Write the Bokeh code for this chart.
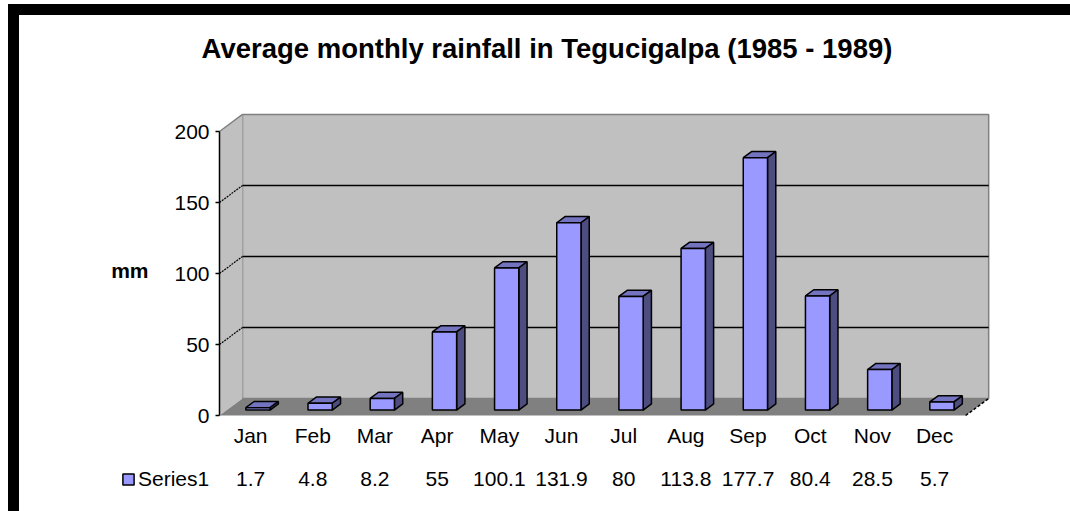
from bokeh.plotting import figure
from bokeh.models import Range1d, Legend, LegendItem
from bokeh.core.properties import value
from bokeh.embed import file_html
from bokeh.resources import INLINE

# ---------------- data ----------------
months = ["Jan", "Feb", "Mar", "Apr", "May", "Jun",
          "Jul", "Aug", "Sep", "Oct", "Nov", "Dec"]
rainfall = [1.7, 4.8, 8.2, 55, 100.1, 131.9, 80, 113.8, 177.7, 80.4, 28.5, 5.7]
value_labels = ["1.7", "4.8", "8.2", "55", "100.1", "131.9",
                "80", "113.8", "177.7", "80.4", "28.5", "5.7"]
y_ticks = [0, 50, 100, 150, 200]
tick_labels = ["0", "50", "100", "150", "200"]
title_text = "Average monthly rainfall in Tegucigalpa (1985 - 1989)"
series_name = "Series1"
y_label = "mm"

# ---------------- layout & 3D style ----------------
FONT = value("Liberation Sans")
FS = "21px"
OFF_X, OFF_Y = 19, 15            # chart position on the page (inside black border)
W, H = 1070 - OFF_X, 511 - OFF_Y
PX, PY = 62.18, 1.42             # pixels per category / per mm
X0, Y0 = 200, 400                # canvas position of the front-plane origin
DX, DY = 0.37, 12.0              # depth offset (categories, mm)
D0, D1 = 0.32, 0.68              # bar front / back depth fraction
BAR_W = 0.39
WALL, FLOOR, EDGE = "#C0C0C0", "#808080", "#808080"
C_FRONT, C_TOP, C_SIDE = "#9999FF", "#7373BF", "#4D4D80"

n = len(months)
ymax = y_ticks[-1]
centers = [i + 0.5 for i in range(n)]

x_range = Range1d(-X0 / PX, (W - X0) / PX)
y_range = Range1d(-(H - Y0) / PY, Y0 / PY)
p = figure(width=W, height=H, x_range=x_range, y_range=y_range,
           x_axis_location=None, y_axis_location=None,
           output_backend="svg", toolbar_location=None, min_border=0,
           margin=(OFF_Y, 0, 0, OFF_X),
           styles={"box-shadow": "-11px -11px 0 0 black, 0 -11px 0 0 black, -11px 0 0 0 black"})
p.title.text = ""
p.background_fill_color = "white"
p.border_fill_color = "white"
p.outline_line_color = None
p.xgrid.visible = False
p.ygrid.visible = False

# title
p.text(x=[(x_range.start + x_range.end) / 2], y=[y_range.end], text=[title_text],
       x_offset=2, y_offset=33, text_align="center", text_baseline="middle",
       text_font=FONT, text_font_size="27.5px", text_font_style="bold", text_color="black")

# walls and floor
p.quad(left=DX, right=n + DX, bottom=DY, top=ymax + DY, fill_color=WALL,
       line_color=EDGE, line_width=1.5)
p.patch([0, 0, DX, DX], [0, ymax, ymax + DY, DY], fill_color=WALL, line_color=None)
p.line([0, DX], [ymax, ymax + DY], line_color=EDGE, line_width=1.5)
p.patch([0, n, n + DX, DX], [0, 0, DY, DY], fill_color=FLOOR, line_color=None)
p.line([n, n + DX], [0, DY], line_color="black", line_width=1.5, line_dash="3 2")

grid_vals = y_ticks[1:-1]
p.segment(x0=[DX] * len(grid_vals), x1=[n + DX] * len(grid_vals),
          y0=[v + DY for v in grid_vals], y1=[v + DY for v in grid_vals],
          line_color="black", line_width=1.5)
p.segment(x0=[0] * len(grid_vals), x1=[DX] * len(grid_vals),
          y0=grid_vals, y1=[v + DY for v in grid_vals],
          line_color="black", line_width=1.2, line_dash="2 1")

# bars
dd = D1 - D0
lefts = [c - BAR_W / 2 + D0 * DX for c in centers]
rights = [c + BAR_W / 2 + D0 * DX for c in centers]
bottoms = [D0 * DY] * n
tops = [v + D0 * DY for v in rainfall]

top_xs = [[l, r, r + dd * DX, l + dd * DX] for l, r in zip(lefts, rights)]
top_ys = [[t, t, t + dd * DY, t + dd * DY] for t in tops]
side_xs = [[r, r + dd * DX, r + dd * DX, r] for r in rights]
side_ys = [[b, b + dd * DY, t + dd * DY, t] for b, t in zip(bottoms, tops)]

p.patches(top_xs, top_ys, fill_color=C_TOP, line_color="black", line_width=1.5)
p.patches(side_xs, side_ys, fill_color=C_SIDE, line_color="black", line_width=1.5)
front = p.quad(left=lefts, right=rights, bottom=bottoms, top=tops,
               fill_color=C_FRONT, line_color="black", line_width=1.5)

# value axis on the front plane
p.segment(x0=[0], x1=[0], y0=[0], y1=[ymax], line_color="black", line_width=1.5)
p.segment(x0=[-4 / PX] * len(y_ticks), x1=[0] * len(y_ticks), y0=y_ticks, y1=y_ticks,
          line_color="black", line_width=1.5)
p.text(x=[0] * len(y_ticks), y=y_ticks, text=tick_labels, x_offset=-10,
       text_align="right", text_baseline="middle", text_font=FONT,
       text_font_size=FS, text_color="black")
p.text(x=[0], y=[ymax / 2], text=[y_label], x_offset=-71, y_offset=-3,
       text_align="right", text_baseline="middle", text_font=FONT,
       text_font_size=FS, text_font_style="bold", text_color="black")

# category labels and data-table row
p.text(x=centers, y=[0] * n, text=months, y_offset=20,
       text_align="center", text_baseline="middle", text_font=FONT,
       text_font_size=FS, text_color="black")
p.text(x=centers, y=[0] * n, text=value_labels, y_offset=63,
       text_align="center", text_baseline="middle", text_font=FONT,
       text_font_size=FS, text_color="black")

legend = Legend(items=[LegendItem(label=series_name, renderers=[front])],
                location=(102, 20), padding=0, margin=0, spacing=0,
                glyph_width=14, glyph_height=14, label_standoff=3,
                label_text_font="Liberation Sans", label_text_font_size=FS,
                label_text_color="black",
                border_line_color=None, background_fill_alpha=0)
p.add_layout(legend)

open("out.html", "w").write(file_html(p, INLINE))
